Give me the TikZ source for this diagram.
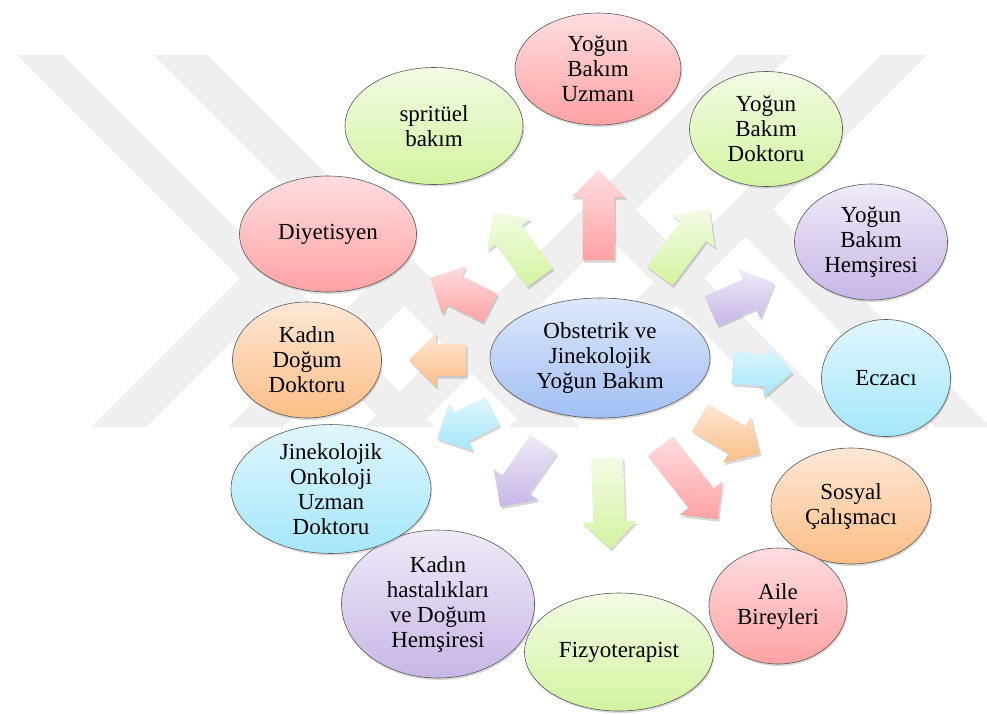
\documentclass[tikz,border=0pt]{standalone}
\usepackage{fontspec}
\setmainfont{Liberation Serif}
\usetikzlibrary{shapes.geometric,shadows,calc}
\definecolor{pkT}{HTML}{FFDDE0}
\definecolor{pkB}{HTML}{FFA2A2}
\definecolor{grT}{HTML}{F3FBE4}
\definecolor{grB}{HTML}{D2F4A0}
\definecolor{puT}{HTML}{EFEAF8}
\definecolor{puB}{HTML}{C8B6E6}
\definecolor{cyT}{HTML}{E0F6FD}
\definecolor{cyB}{HTML}{A4E7FA}
\definecolor{orT}{HTML}{FEE7D6}
\definecolor{orB}{HTML}{FBBE86}
\definecolor{blT}{HTML}{DDE8FB}
\definecolor{blB}{HTML}{A2BFF4}
\definecolor{wmark}{HTML}{EFEFEF}
\newcommand\blockarr[6]{%
  \pgfmathsetmacro\hbase{#4-27}%
  \fill[black,opacity=.16,shift={(#1+1.5,#2+2.5)},rotate=#3]
    (0,-16) -- (\hbase,-16) -- (\hbase,-27) -- (#4,0) -- (\hbase,27) -- (\hbase,16) -- (0,16) -- cycle;
  \path[top color=#5,bottom color=#6,shift={(#1,#2)},rotate=#3]
    (0,-16) -- (\hbase,-16) -- (\hbase,-27) -- (#4,0) -- (\hbase,27) -- (\hbase,16) -- (0,16) -- cycle;
}
\begin{document}
\begin{tikzpicture}[x=1pt,y=-1pt,
  bub/.style={ellipse, draw=black!65, line width=0.6pt, inner sep=0pt, align=center,
    font=\fontsize{23}{25}\selectfont,
    drop shadow={shadow xshift=1pt, shadow yshift=-2pt, opacity=0.3}},
  pinkb/.style={top color=pkT, bottom color=pkB},
  greenb/.style={top color=grT, bottom color=grB},
  purpleb/.style={top color=puT, bottom color=puB},
  cyanb/.style={top color=cyT, bottom color=cyB},
  orangeb/.style={top color=orT, bottom color=orB},
  blueb/.style={top color=blT, bottom color=blB},
  wm/.style={fill=wmark}]
\useasboundingbox (0,0) rectangle (987,713);
\fill[white] (0,0) rectangle (987,713);
% watermark
\path[wm] (17,55) -- (63,55) -- (435,427) -- (389,427) -- cycle;
\path[wm] (154,55) -- (208,55) -- (580,427) -- (526,427) -- cycle;
\path[wm] (240,278) -- (267.5,305.5) -- (146,427) -- (91,427) -- cycle;
\path[wm] (377,278) -- (404.5,305.5) -- (283,427) -- (228,427) -- cycle;
\path[wm] (881,55) -- (927,55) -- (555,427) -- (509,427) -- cycle;
\path[wm] (736,55) -- (790,55) -- (418,427) -- (364,427) -- cycle;
\path[wm] (773,209.5) -- (987,423.5) -- (987,427) -- (935,427) -- (745,237) -- cycle;
\path[wm] (635.5,209.5) -- (853,427) -- (798,427) -- (608,237) -- cycle;
% arrows
\blockarr{598.5}{260}{90}{90}{pkT}{pkB}
\blockarr{659.5}{276}{53}{83}{grT}{grB}
\blockarr{540}{277.5}{126}{80}{grT}{grB}
\blockarr{711}{311}{24}{69}{puT}{puB}
\blockarr{732.5}{368}{-4}{60}{cyT}{cyB}
\blockarr{700}{417.5}{-31}{70}{orT}{orB}
\blockarr{660.5}{446}{-52}{93}{pkT}{pkB}
\blockarr{607}{458}{-88}{91}{grT}{grB}
\blockarr{543.5}{444}{-124.6}{76}{puT}{puB}
\blockarr{492.5}{411}{206.8}{62}{cyT}{cyB}
\blockarr{466}{360}{180}{57}{orT}{orB}
\blockarr{490}{308}{153.4}{67}{pkT}{pkB}
% nodes
\node[bub, blueb, minimum width=220pt, minimum height=120pt] (c) at (600,358) {Obstetrik ve\\Jinekolojik\\Yoğun Bakım};
\node[bub, pinkb, minimum width=166pt, minimum height=112pt] (n1) at (598,69) {Yoğun\\Bakım\\Uzmanı};
\node[bub, greenb, minimum width=153pt, minimum height=115pt] (n2) at (766,129) {Yoğun\\Bakım\\Doktoru};
\node[bub, purpleb, minimum width=153pt, minimum height=116pt] (n3) at (871,242) {Yoğun\\Bakım\\Hemşiresi};
\node[bub, cyanb, minimum width=129pt, minimum height=117pt] (n4) at (886,378) {Eczacı};
\node[bub, orangeb, minimum width=160pt, minimum height=116pt] (n5) at (851,506) {Sosyal\\Çalışmacı};
\node[bub, pinkb, minimum width=138pt, minimum height=116pt] (n6) at (778,606) {Aile\\Bireyleri};
\node[bub, greenb, minimum width=189pt, minimum height=118pt] (n7) at (619,652) {Fizyoterapist};
\node[bub, purpleb, minimum width=193pt, minimum height=148pt] (n8) at (438,604) {Kadın\\hastalıkları\\ve Doğum\\Hemşiresi};
\node[bub, cyanb, minimum width=200pt, minimum height=124pt] (n9) at (331,489) {Jinekolojik\\Onkoloji\\Uzman\\Doktoru};
\node[bub, orangeb, minimum width=149pt, minimum height=116pt] (n10) at (307,360) {Kadın\\Doğum\\Doktoru};
\node[bub, pinkb, minimum width=177pt, minimum height=116pt] (n11) at (328,234) {Diyetisyen};
\node[bub, greenb, minimum width=178pt, minimum height=117pt] (n12) at (434,126) {spritüel\\bakım};
\end{tikzpicture}
\end{document}
